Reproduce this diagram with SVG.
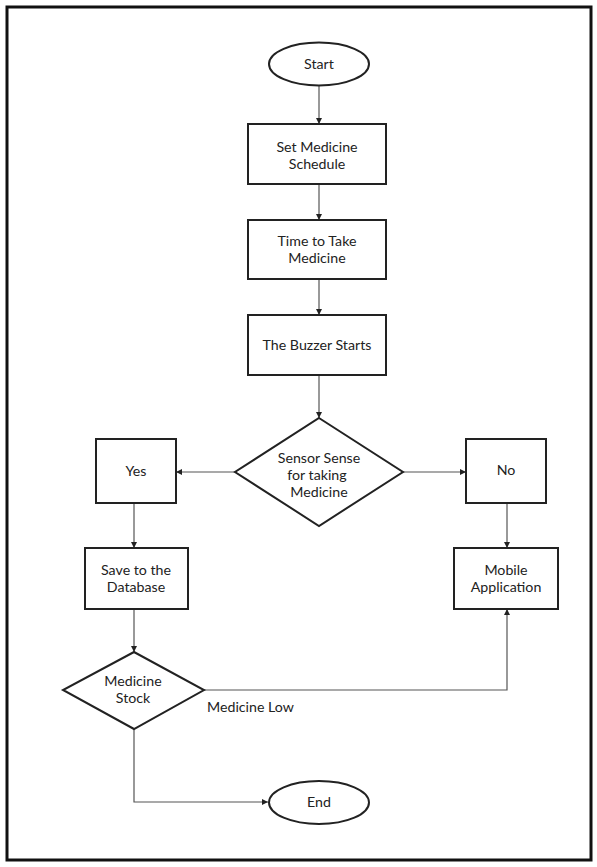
<svg xmlns="http://www.w3.org/2000/svg" width="597" height="867" viewBox="0 0 597 867">
<style>
.n{fill:#fff;stroke:#222;stroke-width:2}
.t{font-family:Lato,"Open Sans","Liberation Sans",sans-serif;font-size:14.2px;fill:#222;text-anchor:middle}
.c{fill:none;stroke:#555;stroke-width:1.2}
</style>
<defs>
<marker id="a" viewBox="0 0 10 10" refX="10" refY="5" markerWidth="6" markerHeight="6" orient="auto" markerUnits="userSpaceOnUse">
<path d="M0,0L10,5L0,10z" fill="#222"/>
</marker>
</defs>
<rect x="0" y="0" width="597" height="867" fill="#fff"/>
<rect x="7" y="7" width="584" height="853" fill="none" stroke="#111" stroke-width="3"/>
<g id="connectors">
<line class="c" x1="319" y1="86" x2="319" y2="124" marker-end="url(#a)"/>
<line class="c" x1="319" y1="184" x2="319" y2="220" marker-end="url(#a)"/>
<line class="c" x1="319" y1="279" x2="319" y2="315" marker-end="url(#a)"/>
<line class="c" x1="319" y1="375" x2="319" y2="418" marker-end="url(#a)"/>
<line class="c" x1="235" y1="472" x2="176" y2="472" marker-end="url(#a)"/>
<line class="c" x1="403" y1="472" x2="466" y2="472" marker-end="url(#a)"/>
<line class="c" x1="134" y1="503" x2="134" y2="548" marker-end="url(#a)"/>
<line class="c" x1="507" y1="503" x2="507" y2="548" marker-end="url(#a)"/>
<line class="c" x1="134" y1="609" x2="134" y2="652" marker-end="url(#a)"/>
<polyline class="c" points="204,690 507,690 507,609" marker-end="url(#a)"/>
<polyline class="c" points="134,729 134,802 268,802" marker-end="url(#a)"/>
</g>
<g id="start"><ellipse class="n" cx="319" cy="64" rx="50" ry="21.5"/><text class="t" x="319" y="69">Start</text></g>
<g id="set"><rect class="n" x="248" y="124" width="138" height="60"/><text class="t" x="317" y="152">Set Medicine</text><text class="t" x="317" y="169">Schedule</text></g>
<g id="time"><rect class="n" x="248" y="220" width="138" height="59"/><text class="t" x="317" y="246">Time to Take</text><text class="t" x="317" y="263">Medicine</text></g>
<g id="buzzer"><rect class="n" x="248" y="315" width="138" height="60"/><text class="t" x="317" y="350">The Buzzer Starts</text></g>
<g id="sensor"><polygon class="n" points="319,418 403,472 319,526 235,472"/><text class="t" x="319" y="463">Sensor Sense</text><text class="t" x="317" y="480">for taking</text><text class="t" x="319" y="497">Medicine</text></g>
<g id="yes"><rect class="n" x="96" y="439" width="80" height="64"/><text class="t" x="136" y="476">Yes</text></g>
<g id="no"><rect class="n" x="466" y="439" width="80" height="64"/><text class="t" x="506" y="475">No</text></g>
<g id="save"><rect class="n" x="85" y="548" width="103" height="61"/><text class="t" x="136" y="575">Save to the</text><text class="t" x="136" y="592">Database</text></g>
<g id="mobile"><rect class="n" x="454" y="548" width="104" height="61"/><text class="t" x="506" y="575">Mobile</text><text class="t" x="506" y="592">Application</text></g>
<g id="stock"><polygon class="n" points="134,652 204,690 134,729 63,690"/><text class="t" x="133" y="686">Medicine</text><text class="t" x="133" y="703">Stock</text></g>
<g id="low-label"><text class="t" x="207" y="712" style="text-anchor:start">Medicine Low</text></g>
<g id="end"><ellipse class="n" cx="319" cy="802.5" rx="50" ry="21.5"/><text class="t" x="319" y="807">End</text></g>
</svg>
